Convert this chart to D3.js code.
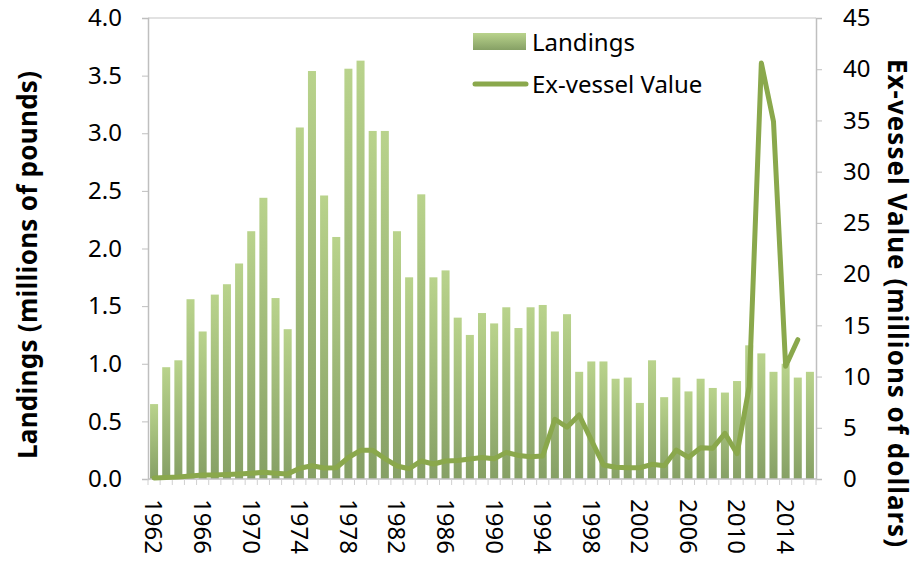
<!DOCTYPE html>
<html>
<head>
<meta charset="utf-8">
<script src="https://cdn.jsdelivr.net/npm/d3@7"></script>
<style>
  body { margin: 0; background: #fff; }
  text { font-family: "Noto Sans", "Open Sans", sans-serif; fill: #000; }
</style>
</head>
<body>
<script>
const width = 917;
const height = 561;
const margins = {top: 18, right: 101, bottom: 82, left: 148};

const years = [1962,1963,1964,1965,1966,1967,1968,1969,1970,1971,1972,1973,1974,1975,1976,1977,1978,1979,1980,1981,
  1982,1983,1984,1985,1986,1987,1988,1989,1990,1991,1992,1993,1994,1995,1996,1997,1998,1999,2000,2001,
  2002,2003,2004,2005,2006,2007,2008,2009,2010,2011,2012,2013,2014,2015,2016];

// landings, millions of pounds
const landings = [0.65,0.97,1.03,1.56,1.28,1.60,1.69,1.87,2.15,2.44,1.57,1.30,3.05,3.54,2.46,2.10,3.56,3.63,3.02,3.02,
  2.15,1.75,2.47,1.75,1.81,1.40,1.25,1.44,1.35,1.49,1.31,1.49,1.51,1.28,1.43,0.93,1.02,1.02,0.87,0.88,
  0.66,1.03,0.71,0.88,0.76,0.87,0.79,0.75,0.85,1.16,1.09,0.93,1.00,0.88,0.93];

// ex-vessel value, millions of dollars (no value for the last year)
const exVessel = [0.1,0.15,0.2,0.3,0.4,0.4,0.45,0.5,0.55,0.65,0.55,0.5,1.05,1.3,1.07,1.1,2.1,2.8,2.8,2.0,
  1.27,1.0,1.76,1.46,1.76,1.8,1.95,2.1,1.98,2.6,2.3,2.18,2.25,5.83,5.05,6.25,3.8,1.37,1.14,1.1,
  1.1,1.43,1.3,2.83,2.1,3.06,3.0,4.46,2.47,9.0,40.6,34.9,11.0,13.6,null];

const leftTicks = [0,0.5,1.0,1.5,2.0,2.5,3.0,3.5,4.0];
const rightTicks = [0,5,10,15,20,25,30,35,40,45];
const yearLabels = [1962,1966,1970,1974,1978,1982,1986,1990,1994,1998,2002,2006,2010,2014];

const seriesNames = ["Landings", "Ex-vessel Value"];
const axisTitles = ["Landings (millions of pounds)", "Ex-vessel Value (millions of dollars)"];

const barTop = "#b9d38c";
const barBottom = "#86a065";
const lineColour = "#8aa84c";
const axisGrey = "#bfbfbf";
const fontSize = 24;

const svg = d3.select("body")
  .append("svg")
  .attr("width", width)
  .attr("height", height);

const grad = svg.append("defs").append("linearGradient")
  .attr("id", "barGrad")
  .attr("x1", 0).attr("y1", 0).attr("x2", 0).attr("y2", 1);
grad.append("stop").attr("offset", "0%").attr("stop-color", barTop);
grad.append("stop").attr("offset", "100%").attr("stop-color", barBottom);

const x = d3.scaleBand()
  .domain(years)
  .range([margins.left, width - margins.right])
  .paddingInner(0.34)
  .paddingOuter(0.17);

const yLeft = d3.scaleLinear()
  .domain([0, 4])
  .range([height - margins.bottom, margins.top]);

const yRight = d3.scaleLinear()
  .domain([0, 45])
  .range([height - margins.bottom, margins.top]);

const plotBottom = height - margins.bottom;
const plotRight = width - margins.right;

// top border of plot area
svg.append("line")
  .attr("x1", margins.left).attr("x2", plotRight)
  .attr("y1", margins.top).attr("y2", margins.top)
  .attr("stroke", "#d9d9d9").attr("stroke-width", 1.5);

// bars
svg.append("g")
  .selectAll("rect")
  .data(years)
  .enter()
  .append("rect")
  .attr("x", d => x(d))
  .attr("width", x.bandwidth())
  .attr("y", (d, i) => yLeft(landings[i]))
  .attr("height", (d, i) => plotBottom - yLeft(landings[i]))
  .attr("fill", "url(#barGrad)");

// left axis
const leftAxis = d3.axisLeft(yLeft)
  .tickValues(leftTicks)
  .tickFormat(d3.format(".1f"))
  .tickSize(6)
  .tickPadding(20);

const gl = svg.append("g")
  .attr("transform", `translate(${margins.left},0)`)
  .call(leftAxis);

// right axis
const rightAxis = d3.axisRight(yRight)
  .tickValues(rightTicks)
  .tickSize(6)
  .tickPadding(21);

const gr = svg.append("g")
  .attr("transform", `translate(${plotRight},0)`)
  .call(rightAxis);

// bottom axis: ticks on every category boundary
const gb = svg.append("g");
gb.append("line")
  .attr("x1", margins.left).attr("x2", plotRight)
  .attr("y1", plotBottom).attr("y2", plotBottom)
  .attr("stroke", axisGrey).attr("stroke-width", 1.5);
gb.selectAll(".tick")
  .data(years.concat(["end"]))
  .enter()
  .append("line")
  .attr("x1", (d, i) => margins.left + i * x.step())
  .attr("x2", (d, i) => margins.left + i * x.step())
  .attr("y1", plotBottom).attr("y2", plotBottom + 6)
  .attr("stroke", "#d0d0d0").attr("stroke-width", 1);
gb.selectAll(".ylab")
  .data(yearLabels)
  .enter()
  .append("text")
  .attr("class", "ylab")
  .attr("transform", d => `translate(${x(d) + x.bandwidth() / 2},${plotBottom + 20}) rotate(90)`)
  .attr("dy", "0.36em")
  .attr("font-size", fontSize)
  .text(d => d);

[gl, gr].forEach(g => {
  g.select(".domain").attr("stroke", axisGrey).attr("stroke-width", 1.5);
  g.selectAll(".tick line").attr("stroke", axisGrey).attr("stroke-width", 1);
  g.selectAll(".tick text").attr("font-size", fontSize).attr("font-family", "Noto Sans").attr("fill", "#000");
});

// line
const line = d3.line()
  .defined(d => d.v !== null)
  .x(d => x(d.year) + x.bandwidth() / 2)
  .y(d => yRight(d.v));

svg.append("path")
  .datum(years.map((year, i) => ({year: year, v: exVessel[i]})))
  .attr("d", line)
  .attr("fill", "none")
  .attr("stroke", lineColour)
  .attr("stroke-width", 5)
  .attr("stroke-linejoin", "round")
  .attr("stroke-linecap", "round");

// axis titles
svg.append("text")
  .attr("transform", `translate(28,265) rotate(-90)`)
  .attr("text-anchor", "middle")
  .attr("dy", "0.36em")
  .attr("font-size", 26)
  .attr("font-weight", "bold")
  .attr("textLength", 388)
  .attr("lengthAdjust", "spacing")
  .text(axisTitles[0]);

svg.append("text")
  .attr("transform", `translate(897,303) rotate(90)`)
  .attr("text-anchor", "middle")
  .attr("dy", "0.36em")
  .attr("font-size", 26)
  .attr("font-weight", "bold")
  .attr("textLength", 488)
  .attr("lengthAdjust", "spacing")
  .text(axisTitles[1]);

// legend
const legend = svg.append("g").attr("transform", "translate(473,0)");
legend.append("rect")
  .attr("x", 0).attr("y", 33)
  .attr("width", 53).attr("height", 17)
  .attr("fill", "url(#barGrad)");
legend.append("text")
  .attr("x", 59).attr("y", 42)
  .attr("dy", "0.36em")
  .attr("font-size", fontSize)
  .text(seriesNames[0]);
legend.append("line")
  .attr("x1", 2).attr("x2", 53)
  .attr("y1", 84).attr("y2", 84)
  .attr("stroke", lineColour)
  .attr("stroke-width", 5)
  .attr("stroke-linecap", "round");
legend.append("text")
  .attr("x", 59).attr("y", 84)
  .attr("dy", "0.36em")
  .attr("font-size", fontSize)
  .text(seriesNames[1]);
</script>
</body>
</html>
